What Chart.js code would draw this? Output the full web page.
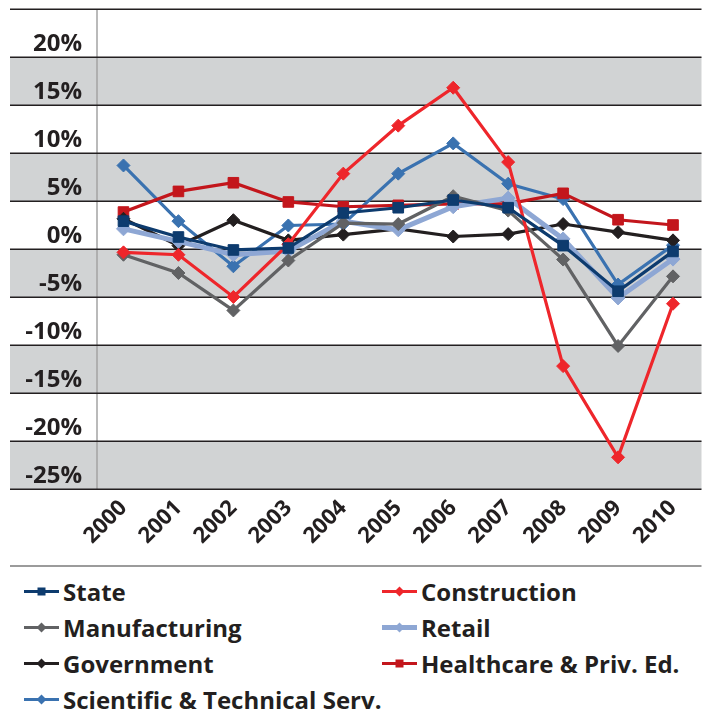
<!DOCTYPE html>
<html>
<head>
<meta charset="utf-8">
<script src="https://cdn.jsdelivr.net/npm/chart.js@4.4.1/dist/chart.umd.min.js"></script>
<style>
  html, body { margin: 0; padding: 0; background: #fff; }
  body { width: 709px; height: 717px; position: relative; overflow: hidden; font-family: "Open Sans", Lato, sans-serif; }
  #wrap { position: absolute; left: 0; top: 0; width: 709px; height: 570px; }
  #legend { position: absolute; left: 0; top: 570px; width: 709px; height: 147px; }
  .item { position: absolute; display: flex; align-items: center; height: 30px; font-weight: 700; font-size: 24px; color: #231f20; white-space: nowrap; }
  .item svg { margin-right: 4px; }
</style>
</head>
<body>
<div id="wrap"><canvas id="c" width="709" height="570"></canvas></div>
<div id="legend"></div>
<script>
const years = ['2000','2001','2002','2003','2004','2005','2006','2007','2008','2009','2010'];
const yTicks = [25, 20, 15, 10, 5, 0, -5, -10, -15, -20, -25];
const stateVals        = [2.9, 1.25, -0.1, 0.1, 3.75, 4.3, 5.1, 4.3, 0.35, -4.4, -0.25];
const constructionVals = [-0.35, -0.6, -5.0, 0.5, 7.85, 12.85, 16.8, 9.05, -12.2, -21.7, -5.7];
const manufacturingVals= [-0.6, -2.5, -6.4, -1.2, 2.7, 2.6, 5.5, 4.0, -1.1, -10.1, -2.85];
const retailVals       = [2.1, 0.8, -0.6, -0.2, 2.9, 2.0, 4.4, 5.3, 1.05, -5.1, -1.05];
const governmentVals   = [3.15, 0.35, 3.0, 0.9, 1.5, 2.1, 1.3, 1.55, 2.6, 1.75, 0.9];
const healthcareVals   = [3.85, 6.0, 6.9, 4.9, 4.4, 4.55, 4.7, 4.7, 5.8, 3.05, 2.5];
const scientificVals   = [8.7, 2.9, -1.8, 2.45, 2.6, 7.85, 11.0, 6.8, 5.2, -3.7, 0.4];

function ds(label, data, color, style, width, radius, legendPos) {
  return { label, data, borderColor: color, backgroundColor: color, pointBackgroundColor: color,
    pointBorderColor: color, pointStyle: style, pointRadius: radius, pointHoverRadius: radius,
    borderWidth: width, pointBorderWidth: 1, tension: 0, legendPos };
}

const datasets = [
  ds('State', stateVals, '#0d3b6e', 'rect', 3.2, 7.5, [0, 0]),
  ds('Construction', constructionVals, '#ee262b', 'rectRot', 3.2, 6.5, [1, 0]),
  ds('Manufacturing', manufacturingVals, '#616264', 'rectRot', 3.2, 6.5, [0, 1]),
  ds('Retail', retailVals, '#8ea7d4', 'rectRot', 5, 7, [1, 1]),
  ds('Government', governmentVals, '#231f20', 'rectRot', 3.2, 6.5, [0, 2]),
  ds('Healthcare & Priv. Ed.', healthcareVals, '#c3161c', 'rect', 3.2, 7.5, [1, 2]),
  ds('Scientific & Technical Serv.', scientificVals, '#3a72b0', 'rectRot', 3.2, 6.5, [0, 3])
];

const bandPlugin = {
  id: 'bands',
  beforeDraw(chart) {
    const { ctx, chartArea, scales } = chart;
    const y = scales.y;
    const x0 = 10, x1 = chartArea.right + 1;
    ctx.save();
    ctx.fillStyle = '#d1d3d4';
    for (let i = 0; i < yTicks.length - 1; i++) {
      if (i % 2 === 1) {
        const ya = y.getPixelForValue(yTicks[i]);
        const yb = y.getPixelForValue(yTicks[i + 1]);
        ctx.fillRect(x0, ya, x1 - x0, yb - ya);
      }
    }
    ctx.strokeStyle = '#a3a3a3';
    ctx.lineWidth = 1.5;
    ctx.beginPath();
    ctx.moveTo(chartArea.left + 1, chartArea.top);
    ctx.lineTo(chartArea.left + 1, chartArea.bottom);
    ctx.stroke();
    ctx.strokeStyle = '#231f20';
    ctx.lineWidth = 1.5;
    yTicks.forEach(v => {
      const py = Math.round(y.getPixelForValue(v)) + 0.25;
      ctx.beginPath();
      ctx.moveTo(x0, py);
      ctx.lineTo(x1, py);
      ctx.stroke();
    });
    ctx.strokeStyle = '#7a7a7a';
    ctx.lineWidth = 1.5;
    ctx.beginPath();
    ctx.moveTo(x0, 566);
    ctx.lineTo(x1, 566);
    ctx.stroke();
    ctx.restore();
  }
};

const chart = new Chart(document.getElementById('c'), {
  type: 'line',
  data: { labels: years, datasets },
  plugins: [bandPlugin],
  options: {
    responsive: false,
    animation: false,
    events: [],
    layout: { padding: { top: 9, right: 4, left: 0, bottom: 0 } },
    plugins: { legend: { display: false }, tooltip: { enabled: false } },
    scales: {
      x: {
        type: 'category',
        offset: true,
        grid: { display: false, drawTicks: false },
        border: { display: false },
        ticks: { autoSkip: false, maxRotation: 45, minRotation: 45, padding: 6,
          color: '#231f20', font: { family: 'Open Sans', weight: '700', size: 22 } },
        afterFit(scale) { scale.height = 81; scale.paddingLeft = 0; scale.paddingRight = 0; }
      },
      y: {
        min: -25, max: 25,
        grid: { display: false, drawTicks: false },
        border: { display: false },
        afterBuildTicks(scale) { scale.ticks = yTicks.map(v => ({ value: v })); },
        ticks: {
          padding: 14, labelOffset: -13,
          color: '#231f20', font: { family: 'Open Sans', weight: '700', size: 24 },
          callback: v => (v === 25 ? '' : v + '%')
        },
        afterFit(scale) { scale.width = 96; scale.paddingTop = 0; scale.paddingBottom = 0; }
      }
    }
  }
});

const legend = document.getElementById('legend');
const colX = [24, 382], rowY = [6, 42, 78, 114];
datasets.forEach(d => {
  const [c, r] = d.legendPos;
  const el = document.createElement('div');
  el.className = 'item';
  el.style.left = colX[c] + 'px';
  el.style.top = rowY[r] + 'px';
  const marker = d.pointStyle === 'rect'
    ? `<rect x="13.5" y="3.5" width="8" height="8" fill="${d.borderColor}"/>`
    : `<polygon points="17.5,2.5 22.5,7.5 17.5,12.5 12.5,7.5" fill="${d.borderColor}"/>`;
  el.innerHTML = `<svg width="35" height="15" viewBox="0 0 35 15"><line x1="0" y1="7.5" x2="35" y2="7.5" stroke="${d.borderColor}" stroke-width="${d.borderWidth}"/>${marker}</svg><span>${d.label}</span>`;
  legend.appendChild(el);
});
</script>
</body>
</html>
